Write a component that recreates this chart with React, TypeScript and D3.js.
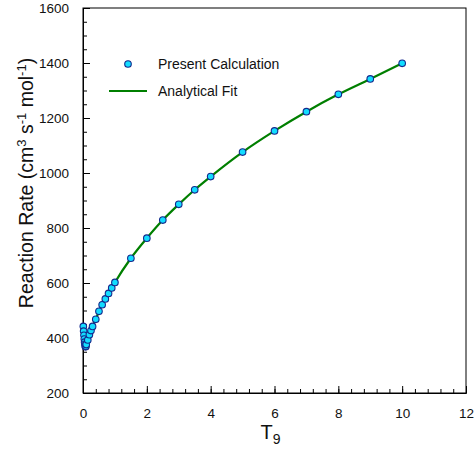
import React, { useRef, useEffect } from 'react';
import * as d3 from 'd3';

// temperature in units of 10^9 K
const t9 = [0.01, 0.02, 0.03, 0.04, 0.05, 0.06, 0.07, 0.08, 0.09, 0.1, 0.15, 0.2, 0.25, 0.3, 0.4, 0.5, 0.6, 0.7, 0.8, 0.9, 1.0, 1.5, 2, 2.5, 3, 3.5, 4, 5, 6, 7, 8, 9, 10];
// reaction rate, cm3 s-1 mol-1
const rate = [442, 425, 410, 396, 385, 377, 371, 368, 370, 376, 393, 412, 427, 442, 468, 497, 521, 542, 562, 582, 602, 690, 763, 829, 886, 939, 987, 1076, 1153, 1223, 1286, 1342, 1399];

const xTicks = [0, 2, 4, 6, 8, 10, 12];
const yTicks = [200, 400, 600, 800, 1000, 1200, 1400, 1600];

const width = 475, height = 450;

const App = () => {
  const svgRef = useRef(null);

  useEffect(() => {
    const margin = { top: 8, right: 9, bottom: 57, left: 83 };
    const innerWidth = width - margin.left - margin.right;
    const innerHeight = height - margin.top - margin.bottom;

    const root = d3.select(svgRef.current);
    root.selectAll('*').remove();
    const svg = root.append('g').attr('transform', `translate(${margin.left},${margin.top})`);

    const x = d3.scaleLinear().domain([0, 12]).range([0, innerWidth]);
    const y = d3.scaleLinear().domain([200, 1600]).range([innerHeight, 0]);

    // minor ticks
    svg.append('g')
      .attr('transform', `translate(0,${innerHeight})`)
      .call(d3.axisBottom(x).tickValues(d3.range(0, 12.01, 0.4)).tickSizeInner(-4).tickSizeOuter(0).tickFormat(() => ''));
    svg.append('g')
      .call(d3.axisLeft(y).tickValues(d3.range(200, 1601, 50)).tickSizeInner(-4).tickSizeOuter(0).tickFormat(() => ''));

    // major ticks
    const xAxis = svg.append('g')
      .attr('transform', `translate(0,${innerHeight})`)
      .call(d3.axisBottom(x).tickValues(xTicks).tickSizeInner(-7).tickSizeOuter(0).tickPadding(15).tickFormat(d3.format('d')));
    const yAxis = svg.append('g')
      .call(d3.axisLeft(y).tickValues(yTicks).tickSizeInner(-7).tickSizeOuter(0).tickPadding(14).tickFormat(d3.format('d')));

    [xAxis, yAxis].forEach(a => {
      a.selectAll('text').attr('font-family', 'Liberation Sans, Arial, sans-serif').attr('font-size', 13.5).attr('fill', '#111');
    });
    svg.selectAll('.domain').attr('stroke', '#000');
    svg.selectAll('.tick line').attr('stroke', '#000');

    // frame
    svg.append('rect')
      .attr('width', innerWidth).attr('height', innerHeight)
      .attr('fill', 'none').attr('stroke', '#000');

    const pts = t9.map((d, i) => ({ x: d, y: rate[i] }));

    svg.append('path')
      .datum(pts)
      .attr('fill', 'none')
      .attr('stroke', '#007f00')
      .attr('stroke-width', 2.2)
      .attr('d', d3.line().x(d => x(d.x)).y(d => y(d.y)).curve(d3.curveMonotoneX));

    svg.append('g').selectAll('circle')
      .data(pts)
      .join('circle')
      .attr('cx', d => x(d.x))
      .attr('cy', d => y(d.y))
      .attr('r', 3.3)
      .attr('fill', '#12dcff')
      .attr('stroke', '#14288c')
      .attr('stroke-width', 1.1);

    // legend
    const lg = svg.append('g').attr('font-family', 'Liberation Sans, Arial, sans-serif').attr('font-size', 14).attr('fill', '#111');
    lg.append('circle').attr('cx', 45).attr('cy', 56).attr('r', 3.3)
      .attr('fill', '#12dcff').attr('stroke', '#14288c').attr('stroke-width', 1.1);
    lg.append('text').attr('x', 75).attr('y', 56).attr('dy', '0.35em').text('Present Calculation');
    lg.append('line').attr('x1', 26).attr('x2', 64).attr('y1', 83).attr('y2', 83)
      .attr('stroke', '#007f00').attr('stroke-width', 2.2);
    lg.append('text').attr('x', 75).attr('y', 83).attr('dy', '0.35em').text('Analytical Fit');

    // x label
    const xl = root.append('text')
      .attr('x', margin.left + innerWidth / 2 - 4)
      .attr('y', 439)
      .attr('text-anchor', 'middle')
      .attr('font-family', 'Liberation Sans, Arial, sans-serif')
      .attr('font-size', 20)
      .attr('fill', '#111');
    xl.append('tspan').text('T');
    xl.append('tspan').attr('font-size', 14).attr('dy', 5).text('9');

    // y label
    const yl = root.append('text')
      .attr('transform', `translate(33,183) rotate(-90)`)
      .attr('text-anchor', 'middle')
      .attr('font-family', 'Liberation Sans, Arial, sans-serif')
      .attr('font-size', 19.5)
      .attr('fill', '#111');
    yl.append('tspan').text('Reaction Rate (cm');
    yl.append('tspan').attr('font-size', 13).attr('dy', -7).text('3');
    yl.append('tspan').attr('dy', 7).text(' s');
    yl.append('tspan').attr('font-size', 13).attr('dy', -7).text('-1');
    yl.append('tspan').attr('dy', 7).text(' mol');
    yl.append('tspan').attr('font-size', 13).attr('dy', -7).text('-1');
    yl.append('tspan').attr('dy', 7).text(')');
  }, []);

  return (
    <svg ref={svgRef} width={width} height={height}
      style={{ position: 'absolute', left: 0, top: 0, background: '#fff' }} />
  );
};

export default App;
